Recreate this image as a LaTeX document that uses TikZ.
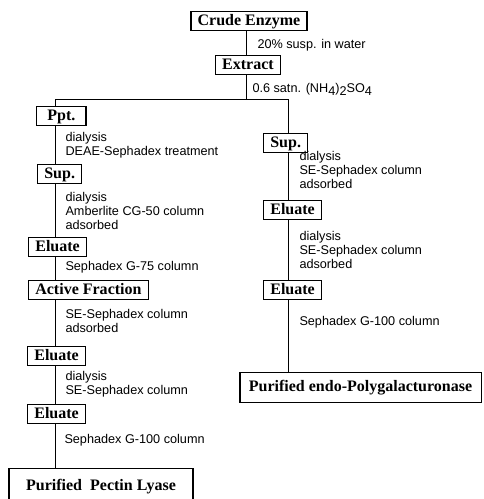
\documentclass[tikz,border=0pt]{standalone}
\usepackage{fontspec}
\newfontfamily\boxfamily{Liberation Serif}
\newfontfamily\notefamily{Liberation Sans}
\newcommand\lowdig[1]{\raisebox{-0.45ex}{#1}}

\tikzset{every picture/.style={line width=0.75pt}}
\tikzset{
  stepbox/.style={draw, line width=1pt, font=\boxfamily\bfseries\fontsize{12}{14}\selectfont,
    inner xsep=5pt, inner ysep=1.5pt, text height=9pt, text depth=2.6pt, anchor=west},
  finalbox/.style={stepbox, anchor=north, minimum height=22.5pt},
  note/.style={font=\notefamily\fontsize{9.5}{10.5}\selectfont, align=left, inner sep=0pt, anchor=west}
}

\begin{document}
\begin{tikzpicture}[x=0.75pt,y=0.75pt,yscale=-1,xscale=1]
\useasboundingbox (0,0) rectangle (484,499);

%Coordinates of the lines
\coordinate (mspine) at (246.5,100);
\coordinate (lspine) at (55.5,100);
\coordinate (rspine) at (288,100);

% Text Node
\node [stepbox, anchor=center] (crude) at (249,21) {Crude Enzyme};
\node [note] (n1) at (257,45) {20\% susp. in water};
\node [stepbox, anchor=center] (extract) at (248,65) {Extract};
\node [note] (n2) at (252,89) {0.6 satn. (NH\lowdig{4})\lowdig{2}SO\lowdig{4}};

% Text Node : left
\node [stepbox, minimum width=37pt] (ppt) at (36,116) {Ppt.};
\node [note] (n3) at (65,145) {dialysis\\DEAE-Sephadex treatment};
\node [stepbox] (sup1) at (37,174) {Sup.};
\node [note] (n4) at (65,211) {dialysis\\Amberlite CG-50 column\\adsorbed};
\node [stepbox] (elu1) at (28,247) {Eluate};
\node [note] (n5) at (65,267) {Sephadex G-75 column};
\node [stepbox] (act) at (28,290) {Active Fraction};
\node [note] (n6) at (65,321) {SE-Sephadex column\\adsorbed};
\node [stepbox] (elu2) at (27,356) {Eluate};
\node [note] (n7) at (65,384) {dialysis\\SE-Sephadex column};
\node [stepbox] (elu3) at (27,414) {Eluate};
\node [note] (n8) at (64,440) {Sephadex G-100 column};
\node [finalbox, minimum width=138pt, minimum height=27pt] (lyase) at (101,468) {Purified\ \ Pectin\ Lyase};

% Text Node : right
\node [stepbox] (sup2) at (263,143) {Sup.};
\node [note] (n9) at (299,170) {dialysis\\SE-Sephadex column\\adsorbed};
\node [stepbox] (elu4) at (263,210) {Eluate};
\node [note] (n10) at (299,250) {dialysis\\SE-Sephadex column\\adsorbed};
\node [stepbox] (elu5) at (263,290) {Eluate};
\node [note] (n11) at (299,322) {Sephadex G-100 column};
\node [finalbox, minimum width=181pt] (pg) at (360.5,372) {Purified endo-Polygalacturonase};

%Straight Lines
\draw (crude.south -| mspine) -- (extract.north -| mspine) ;
\draw (extract.south -| mspine) -- (mspine) ;
\draw (ppt.north -| lspine) -- (lspine) -- (rspine) -- (sup2.north -| rspine) ;
%Straight Lines : left
\draw (ppt.south -| lspine) -- (sup1.north -| lspine) ;
\draw (sup1.south -| lspine) -- (elu1.north -| lspine) ;
\draw (elu1.south -| lspine) -- (act.north -| lspine) ;
\draw (act.south -| lspine) -- (elu2.north -| lspine) ;
\draw (elu2.south -| lspine) -- (elu3.north -| lspine) ;
\draw (elu3.south -| lspine) -- (lyase.north -| lspine) ;
%Straight Lines : right
\draw (sup2.south -| rspine) -- (elu4.north -| rspine) ;
\draw (elu4.south -| rspine) -- (elu5.north -| rspine) ;
\draw (elu5.south -| rspine) -- (pg.north -| rspine) ;

\end{tikzpicture}
\end{document}
